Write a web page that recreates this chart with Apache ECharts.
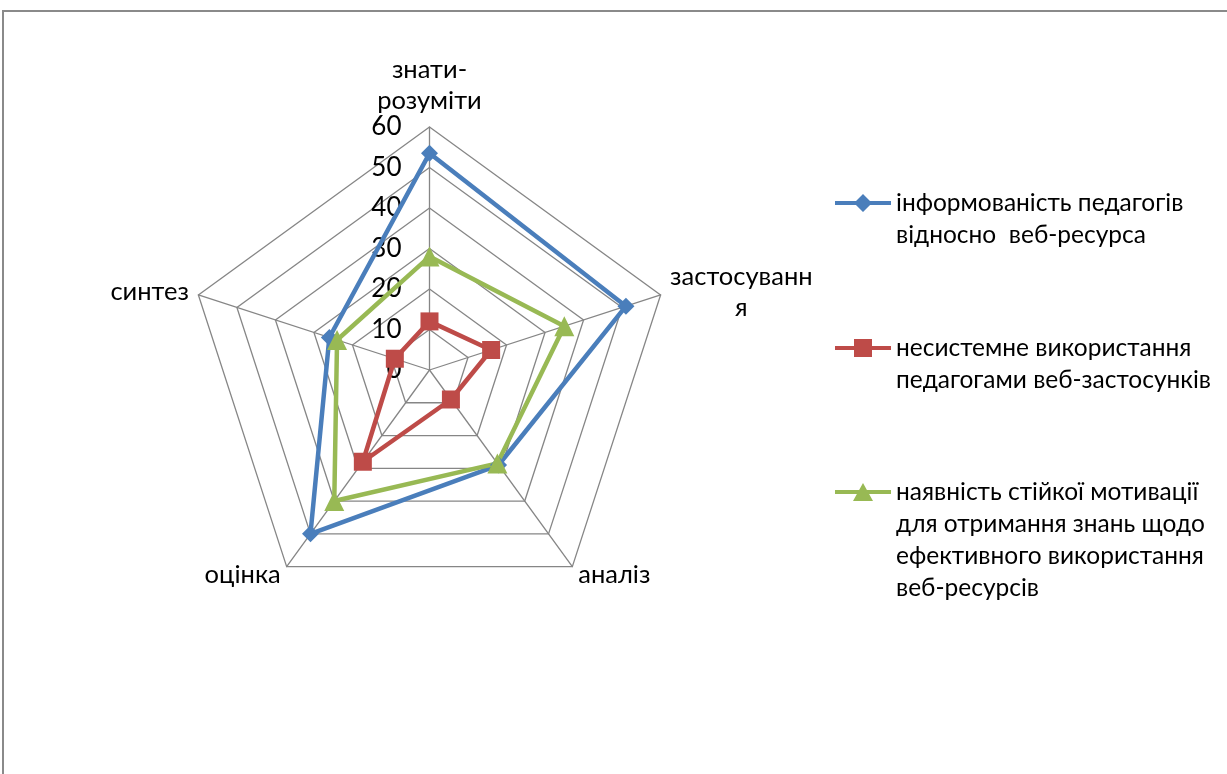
<!DOCTYPE html>
<html>
<head>
<meta charset="utf-8">
<script src="https://cdn.jsdelivr.net/npm/echarts@6/dist/echarts.min.js"></script>
<style>
html,body{margin:0;padding:0;background:#fff;}
#chart{width:1227px;height:774px;}
</style>
</head>
<body>
<div id="chart"></div>
<script>
// Indicator order as ECharts places them (counter-clockwise from the top)
var categories = ['знати-\nрозуміти', 'синтез', 'оцінка', 'аналіз', 'застосуванн\nя'];
var axisMax = 60;
var seriesNames = [
  'інформованість педагогів\nвідносно  веб-ресурса',
  'несистемне використання\nпедагогами веб-застосунків',
  'наявність стійкої мотивації\nдля отримання знань щодо\nефективного використання\nвеб-ресурсів'
];
var valuesInform = [53.5, 26, 50, 29, 51];
var valuesNonSystem = [12, 9, 28, 9, 16];
var valuesMotivation = [28, 24, 40, 28.5, 35];

var colors = ['#4A7EBB', '#BE4B48', '#98B954'];
var symbols = ['diamond', 'rect', 'triangle'];
var symbolSizes = [17, 18, 20];
var FONT = 'Lato, "Open Sans", sans-serif';

var chart = echarts.init(document.getElementById('chart'), null, {renderer: 'canvas'});

var indicators = categories.map(function (c, i) {
  var ind = {name: c, max: axisMax, min: 0};
  ind.axisLabel = {show: i === 0};
  return ind;
});

var allValues = [valuesInform, valuesNonSystem, valuesMotivation];
var seriesData = allValues.map(function (vals, i) {
  return {
    name: seriesNames[i],
    value: vals,
    symbol: symbols[i],
    symbolSize: symbolSizes[i],
    lineStyle: {color: colors[i], width: 4.5},
    itemStyle: {color: colors[i], borderWidth: 0}
  };
});

var legendIcons = [
  'path://M0,7 L56,7 L56,11 L0,11 Z M28,0 L37,9 L28,18 L19,9 Z',
  'path://M0,7 L56,7 L56,11 L0,11 Z M19,0 L37,0 L37,18 L19,18 Z',
  'path://M0,7 L56,7 L56,11 L0,11 Z M28,0 L38,18 L18,18 Z'
];
var LH = 32;
var legendData = seriesNames.map(function (n, i) {
  return {name: n, icon: legendIcons[i]};
});

function makeLegend(items, top) {
  return {
    orient: 'vertical',
    left: 835,
    top: top,
    padding: 0,
    itemWidth: 56,
    itemHeight: 18,
    itemGap: 49,
    selectedMode: false,
    itemStyle: {borderWidth: 0},
    // blank leading lines keep the first text line level with the icon
    formatter: function (name) {
      var n = name.split('\n').length;
      return new Array(n).join('\n') + name;
    },
    textStyle: {fontSize: 24.5, fontFamily: FONT, color: '#000', lineHeight: LH},
    data: items
  };
}

var option = {
  backgroundColor: '#ffffff',
  animation: false,
  graphic: [{
    type: 'rect', silent: true, z: -10,
    shape: {x: 3, y: 11, width: 1400, height: 900},
    style: {fill: 'none', stroke: '#8a8a8a', lineWidth: 2}
  }],
  legend: [
    makeLegend(legendData.slice(0, 2), 155),
    makeLegend(legendData.slice(2), 380)
  ],
  radar: {
    center: [429.5, 370],
    radius: 243,
    startAngle: 90,
    shape: 'polygon',
    splitNumber: 6,
    nameGap: 10,
    axisName: {
      color: '#000',
      fontSize: 25.5,
      fontFamily: FONT,
      formatter: function (v) {
        return v.split('\n').map(function (s) { return '{c|' + s + '}'; }).join('\n');
      },
      rich: {c: {align: 'center', fontSize: 25.5, fontFamily: FONT, color: '#000', lineHeight: 31}}
    },
    splitLine: {lineStyle: {color: '#868686', width: 1.3}},
    splitArea: {show: false},
    axisLine: {lineStyle: {color: '#868686', width: 1.3}},
    axisTick: {show: false},
    axisLabel: {show: false, color: '#000', fontSize: 26, fontFamily: FONT, margin: 28},
    indicator: indicators
  },
  series: [{
    type: 'radar',
    data: seriesData,
    emphasis: {disabled: true}
  }]
};
chart.setOption(option);
</script>
</body>
</html>
